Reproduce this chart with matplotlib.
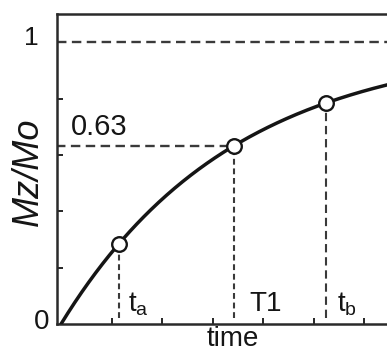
import numpy as np
import matplotlib
matplotlib.use("Agg")
import matplotlib.pyplot as plt

plt.rcParams['font.family'] = ['Liberation Sans', 'DejaVu Sans']
plt.rcParams['mathtext.fontset'] = 'custom'
plt.rcParams['mathtext.rm'] = 'Liberation Sans'

# Saturation recovery: Mz/Mo = 1 - exp(-t/T1)
T1 = 3.42
t_points = [1.14, T1, 5.24]          # ta, T1, tb
point_labels = [r'$\mathregular{t_a}$', 'T1', r'$\mathregular{t_b}$']
label_offsets = [0.18, 0.3, 0.22]
level_63 = 0.63
x_ticks = [1, 2, 3, 4, 5, 6]
y_minor = [0.2, 0.4, 0.6, 0.8]

ink = '#151515'
dash = '#3a3a3a'
W, H = 387, 354

fig = plt.figure(figsize=(W / 100, H / 100), dpi=100)
ax = fig.add_axes([57 / W, (H - 324) / H, 0.88, 310 / H])

t = np.linspace(0, 6.8, 300)
mz = 1 - np.exp(-t / T1)
ax.plot(t, mz, color=ink, lw=2.5, zorder=3, solid_capstyle='round')

mz_points = [1 - np.exp(-tp / T1) for tp in t_points]

# reference levels
ax.axhline(1.0, color=dash, lw=1.7, ls=(0, (4.0, 2.3)), zorder=2)
ax.plot([-0.1, T1], [level_63, level_63], color=dash, lw=1.7, ls=(0, (4.0, 2.3)), zorder=2)
for tp, mp, d in zip(t_points, mz_points, [(2.8, 1.8), (2.8, 1.8), (4.0, 2.3)]):
    ax.plot([tp, tp], [0.02, mp], color=dash, lw=1.5, ls=(0, d), zorder=2)
ax.plot(t_points, mz_points, 'o', ms=10.5, mfc='white', mec=ink, mew=1.7, zorder=4)

ax.text(0.2, level_63 + 0.018, '0.63', fontsize=21, color=ink, va='bottom', ha='left')
for tp, lab, off in zip(t_points, point_labels, label_offsets):
    ax.text(tp + off, 0.045, lab, fontsize=20, color=ink, va='baseline', ha='left')

ax.set_xlim(-0.08, 6.66)
ax.set_ylim(0, 1.1)
ax.set_xticks(x_ticks)
ax.set_xticklabels([])
ax.set_yticks([])
ax.set_yticks(y_minor, minor=True)
ax.tick_params(axis='both', which='both', direction='in', length=4.5, width=1.3, color=ink)

for side in ['left', 'bottom', 'top']:
    ax.spines[side].set_linewidth(1.8)
    ax.spines[side].set_color('#2a2a2a')
ax.spines['right'].set_visible(False)

# axis values and titles
fig.text(31 / W, 1 - 38 / H, '1', fontsize=19, color=ink, ha='center', va='center')
fig.text(42 / W, 1 - 322 / H, '0', fontsize=20, color=ink, ha='center', va='center')
fig.text(233 / W, 1.5 / H, 'time', fontsize=20, color=ink, ha='center', va='bottom')
fig.text(28 / W, 1 - 172 / H, 'Mz/Mo', fontsize=26, color=ink, style='italic',
         rotation=90, ha='center', va='center')

fig.savefig('out.png', dpi=100)
